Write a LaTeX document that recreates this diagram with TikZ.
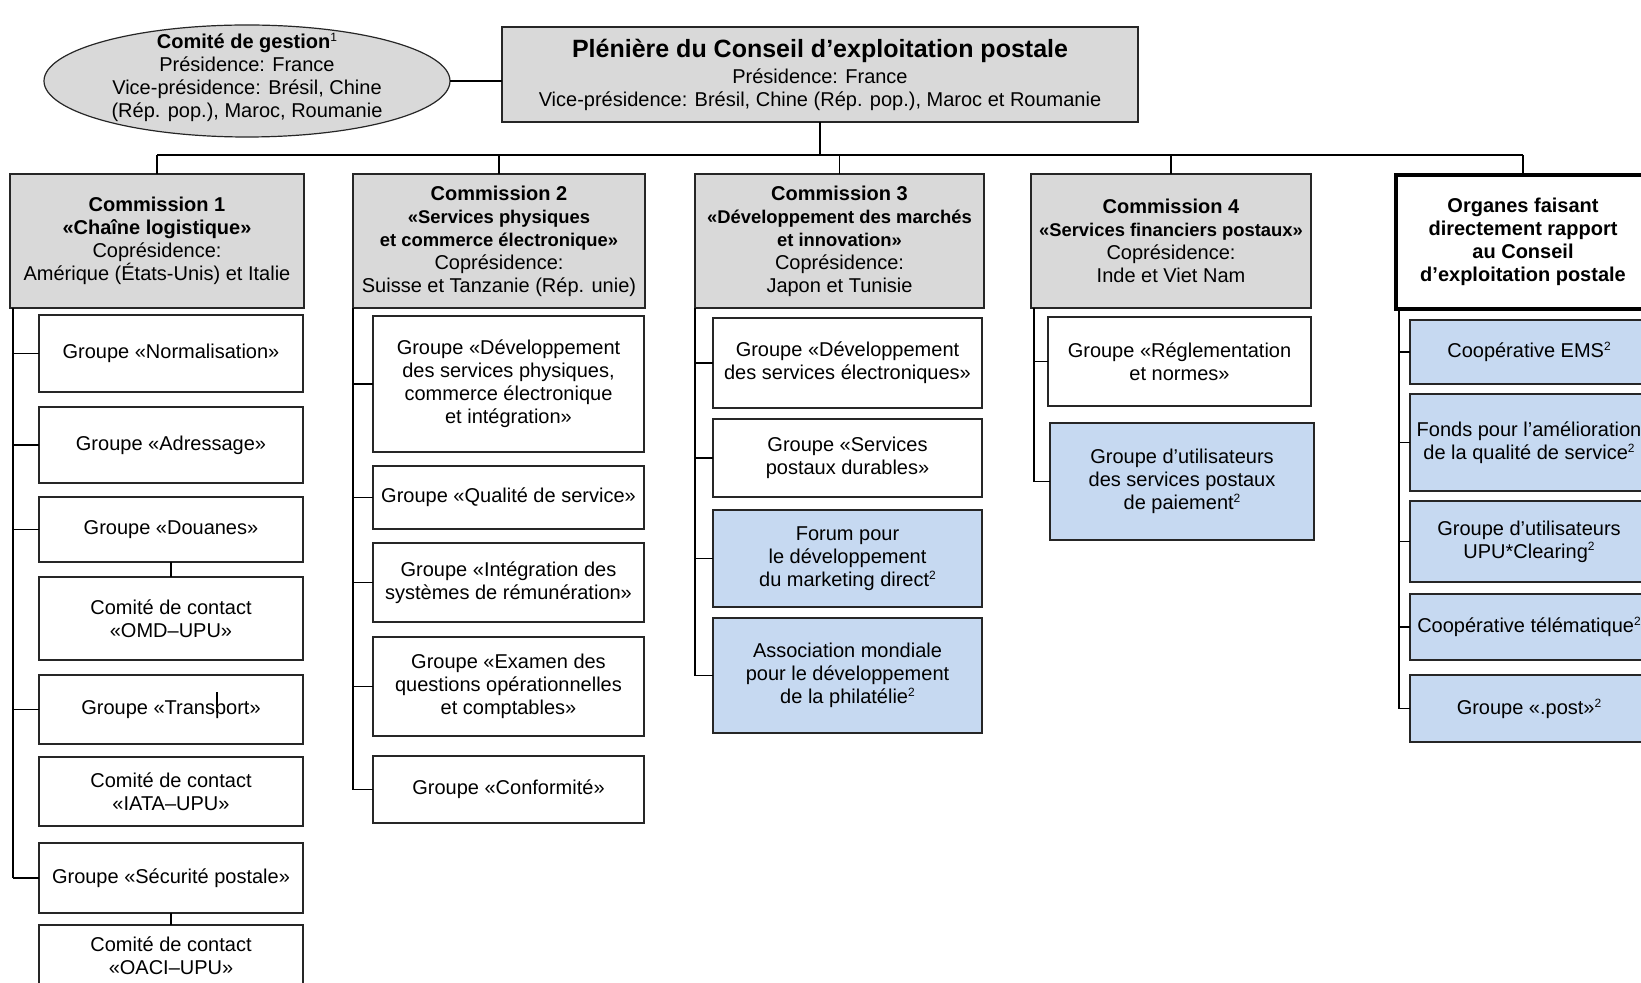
\documentclass[tikz,border=0pt]{standalone}
\usepackage{fontspec}
\setmainfont{Liberation Sans}
\usetikzlibrary{shapes.geometric}
\definecolor{boxgrey}{HTML}{D9D9D9}
\definecolor{boxblue}{HTML}{C6D9F1}
\newcommand{\bx}[7]{\node[#2, minimum width={(#5-#3)*0.5pt}, minimum height={(#6-#4)*0.5pt}] (#1) at ({(#3+#5)/2},{(#4+#6)/2}) {#7};}
\newcommand{\smallbf}{\fontsize{9.2}{11}\selectfont\bfseries}
\newcommand{\sups}[1]{\raisebox{3.6pt}{\fontsize{6}{6}\selectfont\mdseries #1}}
\tikzset{
  basebox/.style={rectangle, draw=black!85, line width=0.6pt, inner sep=0pt, outer sep=0pt, align=center},
  gbox/.style={basebox, fill=boxgrey},
  wbox/.style={basebox, fill=white},
  bbox/.style={basebox, fill=boxblue},
  obox/.style={basebox, fill=white, draw=black, line width=2.2pt},
  conn/.style={draw=black, line width=0.8pt},
  thinconn/.style={draw=black, line width=0.45pt},
}
\begin{document}
\begin{tikzpicture}[x=0.5pt, y=-0.5pt, font=\fontsize{10}{11.5}\selectfont]
\useasboundingbox (0,0) rectangle (1641,983);
\clip (0,0) rectangle (1641,983);
\fill[white] (0,0) rectangle (1641,983);

% top
\node[ellipse, draw=black!85, fill=boxgrey, line width=0.6pt, inner sep=0pt, outer sep=0pt,
      minimum width=203pt, minimum height=56pt] (cg) at (247,81) {};
\node[align=center, inner sep=0pt] (cgt) at ([yshift=1.6pt]cg.center) {\textbf{Comité de gestion}\sups{1}\\Présidence: France\\Vice-présidence: Brésil, Chine\\(Rép. pop.), Maroc, Roumanie};
\bx{pl}{gbox}{502}{27}{1138}{122}{{\fontsize{12.5}{15}\selectfont\bfseries Plénière du Conseil d’exploitation postale}\\[1.5pt]Présidence: France\\Vice-présidence: Brésil, Chine (Rép. pop.), Maroc et Roumanie}

% commissions
\bx{c1}{gbox}{10}{174}{304}{308}{\textbf{Commission 1}\\\textbf{«Chaîne logistique»}\\Coprésidence:\\Amérique (États-Unis) et Italie}
\bx{c2}{gbox}{353}{174}{645}{308}{\textbf{Commission 2}\\{\smallbf «Services physiques}\\{\smallbf et commerce électronique»}\\Coprésidence:\\Suisse et Tanzanie (Rép. unie)}
\bx{c3}{gbox}{695}{174}{984}{308}{\textbf{Commission 3}\\{\smallbf «Développement des marchés}\\{\smallbf et innovation»}\\Coprésidence:\\Japon et Tunisie}
\bx{c4}{gbox}{1031}{174}{1311}{308}{\textbf{Commission 4}\\{\smallbf «Services financiers postaux»}\\Coprésidence:\\Inde et Viet Nam}
\bx{org}{obox}{1396}{175}{1650}{309}{\textbf{Organes faisant}\\\textbf{directement rapport}\\\textbf{au Conseil}\\\textbf{d’exploitation postale}}

% column 1
\bx{n1}{wbox}{39}{315}{303}{392}{Groupe «Normalisation»}
\bx{n2}{wbox}{39}{407}{303}{483}{Groupe «Adressage»}
\bx{n3}{wbox}{39}{497}{303}{562}{Groupe «Douanes»}
\bx{n4}{wbox}{39}{577}{303}{660}{Comité de contact\\«OMD–UPU»}
\bx{n5}{wbox}{39}{675}{303}{744}{Groupe «Transport»}
\bx{n6}{wbox}{39}{757}{303}{826}{Comité de contact\\«IATA–UPU»}
\bx{n7}{wbox}{39}{843}{303}{913}{Groupe «Sécurité postale»}
\bx{n8}{wbox}{39}{925}{303}{986}{Comité de contact\\«OACI–UPU»}

% column 2
\bx{m1}{wbox}{373}{316}{644}{452}{Groupe «Développement\\des services physiques,\\commerce électronique\\et intégration»}
\bx{m2}{wbox}{373}{466}{644}{529}{Groupe «Qualité de service»}
\bx{m3}{wbox}{373}{543}{644}{622}{Groupe «Intégration des\\systèmes de rémunération»}
\bx{m4}{wbox}{373}{637}{644}{736}{Groupe «Examen des\\questions opérationnelles\\et comptables»}
\bx{m5}{wbox}{373}{756}{644}{823}{Groupe «Conformité»}

% column 3
\bx{p1}{wbox}{713}{318}{982}{408}{Groupe «Développement\\des services électroniques»}
\bx{p2}{wbox}{713}{419}{982}{497}{Groupe «Services\\postaux durables»}
\bx{p3}{bbox}{713}{510}{982}{607}{Forum pour\\le développement\\du marketing direct\sups{2}}
\bx{p4}{bbox}{713}{618}{982}{733}{Association mondiale\\pour le développement\\de la philatélie\sups{2}}

% column 4
\bx{q1}{wbox}{1048}{317}{1311}{406}{Groupe «Réglementation\\et normes»}
\bx{q2}{bbox}{1050}{423}{1314}{540}{Groupe d’utilisateurs\\des services postaux\\de paiement\sups{2}}

% column 5
\bx{r1}{bbox}{1410}{320}{1648}{384}{Coopérative EMS\sups{2}}
\bx{r2}{bbox}{1410}{394}{1648}{491}{Fonds pour l’amélioration\\de la qualité de service\sups{2}}
\bx{r3}{bbox}{1410}{501}{1648}{582}{Groupe d’utilisateurs\\UPU*Clearing\sups{2}}
\bx{r4}{bbox}{1410}{594}{1648}{660}{Coopérative télématique\sups{2}}
\bx{r5}{bbox}{1410}{675}{1648}{742}{Groupe «.post»\sups{2}}

% connectors top
\coordinate (bus) at (0,155);
\draw[conn] (cg.east) -- (cg.east -| pl.west);
\draw[conn] (pl.south) -- (pl.south |- bus);
\draw[conn] (c1.north |- bus) -- (org.north |- bus);
\foreach \c in {c1,c2,c3,c4,org} \draw[conn] (\c.north |- bus) -- (\c.north);

% trunks
\coordinate (t1) at (13,0);
\coordinate (t2) at (353,0);
\coordinate (t3) at (695,0);
\coordinate (t4) at (1034,0);
\coordinate (t5) at (1399,0);

\draw[conn] (c1.south -| t1) -- (t1 |- n7.west);
\foreach \n in {n1,n2,n3,n5,n7} \draw[conn] (t1 |- \n.west) -- (\n.west);
\draw[conn] (n3.south) -- (n3.south |- n4.north);
\draw[conn] (n7.south) -- (n7.south |- n8.north);
\coordinate (tick) at (217,692);
\draw[line width=0.6pt] (tick) -- ++(0,20);

\draw[conn] (c2.south -| t2) -- (t2 |- m5.west);
\foreach \n in {m1,m2,m3,m4,m5} \draw[conn] (t2 |- \n.west) -- (\n.west);

\draw[conn] (c3.south -| t3) -- (t3 |- p4.west);
\foreach \n in {p1,p2,p3,p4} \draw[conn] (t3 |- \n.west) -- (\n.west);

\draw[conn] (c4.south -| t4) -- (t4 |- q2.west);
\foreach \n in {q1,q2} \draw[conn] (t4 |- \n.west) -- (\n.west);

\draw[conn] (org.south -| t5) -- (t5 |- r5.west);
\foreach \n in {r1,r3,r4,r5} \draw[conn] (t5 |- \n.west) -- (\n.west);
\draw[thinconn] (t5 |- r2.west) -- (r2.west);
\end{tikzpicture}
\end{document}
